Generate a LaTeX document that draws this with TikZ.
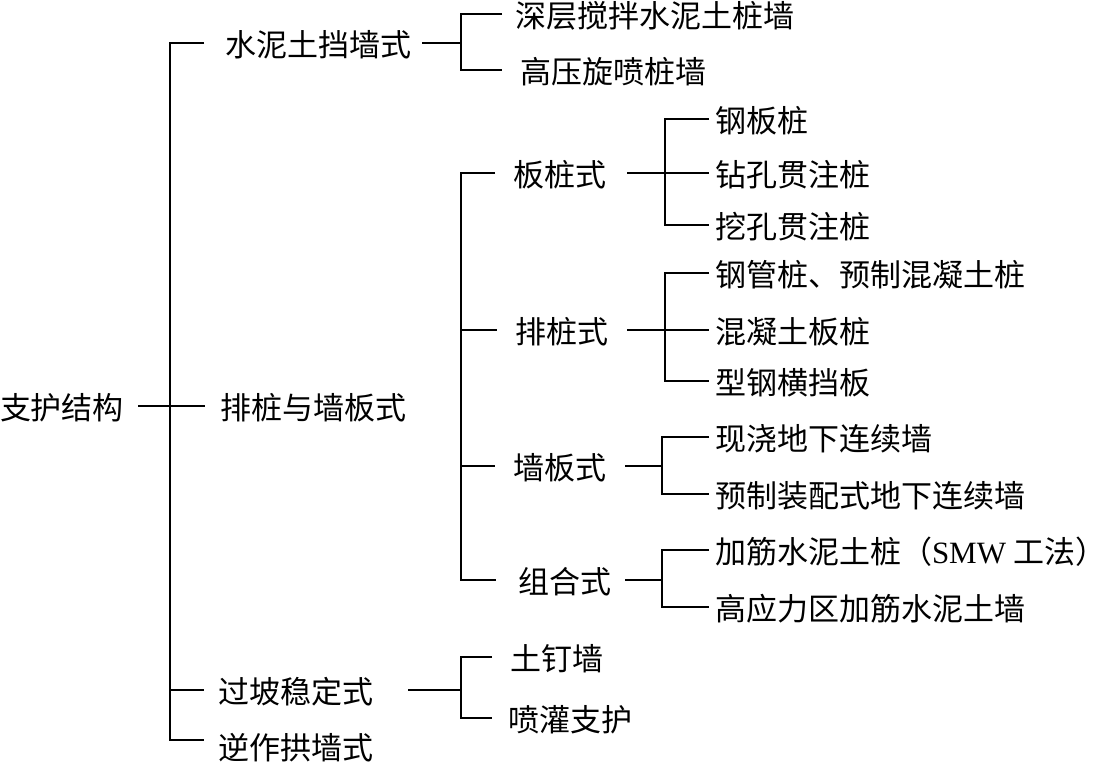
\documentclass[tikz,border=0pt]{standalone}
\usepackage{fontspec}
\setmainfont{Noto Sans CJK SC}
\newfontfamily\latserif{Liberation Serif}
\begin{document}
\begin{tikzpicture}[x=1pt,y=-1pt,
  lab/.style={anchor=west,inner sep=0pt,outer sep=0pt,font=\fontsize{31}{31}\selectfont,text height=26.5pt,text depth=0pt},
  conn/.style={line width=2.2pt,line join=miter}]
\useasboundingbox (0,0) rectangle (1093,769);
% bus positions
\coordinate (B0) at (170,0);
\coordinate (B1) at (461,0);
\coordinate (B2) at (665,0);
\coordinate (B3) at (662,0);
% root and level 1
\node[lab] (root) at (0,406) {支护结构};
\node[lab] (b1) at (225,43) {水泥土挡墙式};
\node[lab] (b2) at (220,406) {排桩与墙板式};
\node[lab] (b3) at (218,690) {过坡稳定式};
\node[lab] (b4) at (218,746) {逆作拱墙式};
% level 2
\node[lab] (c11) at (515,14) {深层搅拌水泥土桩墙};
\node[lab] (c12) at (520,70) {高压旋喷桩墙};
\node[lab] (c21) at (513,173) {板桩式};
\node[lab] (c22) at (515,330) {排桩式};
\node[lab] (c23) at (513,466) {墙板式};
\node[lab] (c24) at (518,580) {组合式};
\node[lab] (e1) at (510,657) {土钉墙};
\node[lab] (e2) at (508,718) {喷灌支护};
% level 3
\node[lab] (d1) at (715,119) {钢板桩};
\node[lab] (d2) at (715,173) {钻孔贯注桩};
\node[lab] (d3) at (715,225) {挖孔贯注桩};
\node[lab] (d4) at (715,273) {钢管桩、预制混凝土桩};
\node[lab] (d5) at (715,330) {混凝土板桩};
\node[lab] (d6) at (715,381) {型钢横挡板};
\node[lab] (d7) at (715,437) {现浇地下连续墙};
\node[lab] (d8) at (715,494) {预制装配式地下连续墙};
\node[lab] (d9) at (715,550) {加筋水泥土桩（{\latserif SMW} 工法\makebox[0.5em][l]{）}};
\node[lab] (d10) at (715,607) {高应力区加筋水泥土墙};
% main bus
\draw[conn] ([xshift=-21pt]b1.west) -- (B0 |- b1.west) -- ([yshift=6pt]B0 |- b4.west) -- ++(34,0);
\draw[conn] ([xshift=14pt]root.east) -- ([xshift=-15pt]b2.west);
\draw[conn] (B0 |- b3.west) -- ([xshift=-14pt]b3.west);
% group 1
\draw[conn] ([xshift=11pt]b1.east) -- (B1 |- b1.west);
\draw[conn] ([xshift=-13pt]c11.west) -- (B1 |- c11.west) -- (B1 |- c12.west) -- ([xshift=-18pt]c12.west);
% group 2
\draw[conn] ([xshift=-18pt]c21.west) -- (B1 |- c21.west) -- (B1 |- c24.west) -- ([xshift=-22pt]c24.west);
\draw[conn] (B1 |- c22.west) -- ([xshift=-18pt]c22.west);
\draw[conn] (B1 |- c23.west) -- ([xshift=-18pt]c23.west);
% 板桩式
\draw[conn] ([xshift=-6pt]d1.west) -- (B2 |- d1.west) -- (B2 |- d3.west) -- ([xshift=-6pt]d3.west);
\draw[conn] ([xshift=21pt]c21.east) -- ([xshift=-6pt]d2.west);
% 排桩式
\draw[conn] ([xshift=-6pt]d4.west) -- (B2 |- d4.west) -- (B2 |- d6.west) -- ([xshift=-6pt]d6.west);
\draw[conn] ([xshift=19pt]c22.east) -- ([xshift=-6pt]d5.west);
% 墙板式
\draw[conn] ([xshift=-6pt]d7.west) -- (B3 |- d7.west) -- (B3 |- d8.west) -- ([xshift=-6pt]d8.west);
\draw[conn] ([xshift=19pt]c23.east) -- (B3 |- c23.west);
% 组合式
\draw[conn] ([xshift=-6pt]d9.west) -- (B3 |- d9.west) -- (B3 |- d10.west) -- ([xshift=-6pt]d10.west);
\draw[conn] ([xshift=14pt]c24.east) -- (B3 |- c24.west);
% 过坡稳定式
\draw[conn] ([xshift=35pt]b3.east) -- (B1 |- b3.west);
\draw[conn] ([xshift=-18pt]e1.west) -- (B1 |- e1.west) -- (B1 |- e2.west) -- ([xshift=-16pt]e2.west);
\end{tikzpicture}
\end{document}
